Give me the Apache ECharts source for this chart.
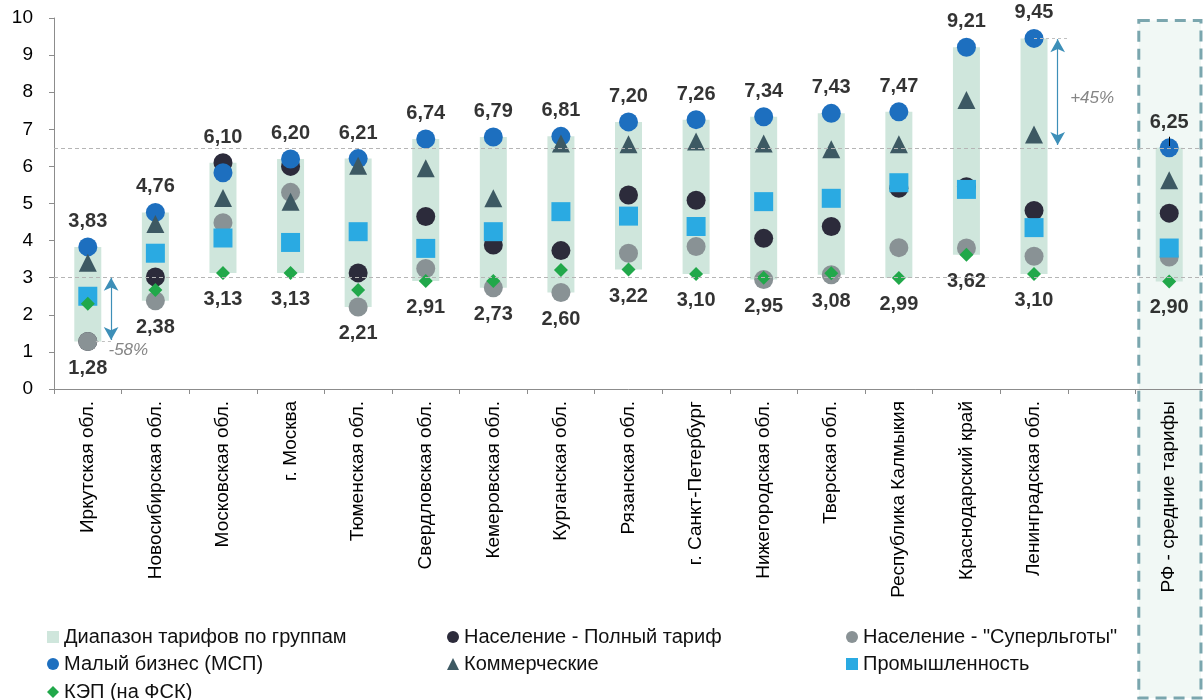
<!DOCTYPE html>
<html><head><meta charset="utf-8">
<script src="https://cdn.jsdelivr.net/npm/echarts@6/dist/echarts.min.js"></script>
<style>html,body{margin:0;padding:0;background:#fff}#c{width:1203px;height:700px}</style>
</head><body><div id="c"></div>
<script>
const categories = ['Иркутская обл.','Новосибирская обл.','Московская обл.','г. Москва','Тюменская обл.','Свердловская обл.','Кемеровская обл.','Курганская обл.','Рязанская обл.','г. Санкт-Петербург','Нижегородская обл.','Тверская обл.','Республика Калмыкия','Краснодарский край','Ленинградская обл.','','РФ - средние тарифы'];
const popFull    = [1.28, 3.02, 6.10, 6.00, 3.13, 4.65, 3.88, 3.73, 5.23, 5.09, 4.06, 4.38, 5.41, 5.45, 4.81, null, 4.74];
const popSuper   = [1.28, 2.38, 4.48, 5.30, 2.21, 3.25, 2.73, 2.60, 3.66, 3.84, 2.95, 3.08, 3.81, 3.80, 3.58, null, 3.56];
const sme        = [3.83, 4.76, 5.83, 6.20, 6.21, 6.74, 6.79, 6.81, 7.20, 7.26, 7.34, 7.43, 7.47, 9.21, 9.45, null, 6.50];
const commercial = [3.40, 4.45, 5.15, 5.05, 6.02, 5.95, 5.14, 6.62, 6.60, 6.67, 6.62, 6.46, 6.60, 7.79, 6.86, null, 5.63];
const industry   = [2.50, 3.66, 4.07, 3.95, 4.24, 3.79, 4.24, 4.78, 4.66, 4.38, 5.05, 5.14, 5.56, 5.38, 4.35, null, 3.80];
const kep        = [2.30, 2.67, 3.13, 3.13, 2.67, 2.91, 2.91, 3.21, 3.22, 3.10, 3.00, 3.12, 2.99, 3.62, 3.10, null, 2.90];
const topLabels    = ['3,83','4,76','6,10','6,20','6,21','6,74','6,79','6,81','7,20','7,26','7,34','7,43','7,47','9,21','9,45','','6,25'];
const bottomLabels = ['1,28','2,38','3,13','3,13','2,21','2,91','2,73','2,60','3,22','3,10','2,95','3,08','2,99','3,62','3,10','','2,90'];
const refLines = [3, 6.5];
const yTicks = [0, 10, 1];

const FONT = "'Liberation Sans', Arial, sans-serif";
const groups = [popFull, popSuper, sme, commercial, industry, kep];
const mins = categories.map((c, i) => {
  const v = groups.map(g => g[i]).filter(x => x != null);
  return v.length ? Math.min(...v) : null;
});
const maxs = categories.map((c, i) => {
  const v = groups.map(g => g[i]).filter(x => x != null);
  return v.length ? Math.max(...v) : null;
});
const spans = mins.map((m, i) => m == null ? null : +(maxs[i] - m).toFixed(2));

function markerSeries(name, data, symbol, size, color) {
  return { name, type: 'scatter', data, symbol, symbolSize: size, itemStyle: { color, opacity: 1 }, silent: true, z: 3 };
}
function legendBox(left, top, names, lh) {
  return { left, top, orient: 'vertical', itemGap: 7, itemWidth: 12, itemHeight: 12, padding: 0,
    textStyle: { fontSize: 20, color: '#111', lineHeight: lh, fontFamily: FONT }, data: names };
}

const chart = echarts.init(document.getElementById('c'), null, { renderer: 'canvas' });
const option = {
  animation: false,
  textStyle: { fontFamily: FONT },
  grid: { left: 54, top: 18, width: 1149, height: 371 },
  xAxis: [{
    type: 'category', data: categories, boundaryGap: true,
    axisLine: { lineStyle: { color: '#8c8c8c', width: 1 } },
    axisTick: { show: true, length: 5, lineStyle: { color: '#8c8c8c' } },
    axisLabel: { rotate: 90, interval: 0, fontSize: 19, color: '#000', margin: 12, fontFamily: FONT }
  }, {
    type: 'value', min: -0.5, max: 16.5, show: false
  }],
  yAxis: {
    type: 'value', min: yTicks[0], max: yTicks[1], interval: yTicks[2],
    axisLine: { show: true, onZero: false, lineStyle: { color: '#8c8c8c', width: 1 } },
    axisTick: { show: true, length: 5, lineStyle: { color: '#8c8c8c' } },
    splitLine: { show: false },
    axisLabel: { fontSize: 19, color: '#000', margin: 21, fontFamily: FONT }
  },
  legend: [
    legendBox(47, 627, [{ name: 'Диапазон тарифов по группам', icon: 'rect' }, 'Малый бизнес (МСП)'], 20),
    legendBox(47, 682, ['КЭП (на ФСК)'], 18),
    legendBox(447, 627, ['Население - Полный тариф', 'Коммерческие'], 20),
    legendBox(846, 627, ['Население - "Суперльготы"', 'Промышленность'], 20)
  ],
  series: [
    { name: '_base', type: 'bar', stack: 'r', data: mins, barWidth: 27, itemStyle: { color: 'rgba(0,0,0,0)' }, silent: true },
    { name: 'Диапазон тарифов по группам', type: 'bar', stack: 'r', data: spans, barWidth: 27, itemStyle: { color: '#cfe6dc' }, silent: true },
    markerSeries('Население - Полный тариф', popFull, 'circle', 19, '#2c2b3b'),
    markerSeries('Население - "Суперльготы"', popSuper, 'circle', 19, '#899295'),
    markerSeries('Малый бизнес (МСП)', sme, 'circle', 19, '#1d6fbf'),
    markerSeries('Коммерческие', commercial, 'triangle', 18, '#3d5963'),
    markerSeries('Промышленность', industry, 'rect', 19, '#2aaae2'),
    markerSeries('КЭП (на ФСК)', kep, 'diamond', 14, '#21a84a'),
    { name: '_top', type: 'scatter', data: maxs, symbolSize: 1, itemStyle: { color: 'rgba(0,0,0,0)' }, silent: true, z: 4,
      label: { show: true, position: 'top', distance: 15, fontSize: 20, fontWeight: 'bold', color: '#000', fontFamily: FONT,
        formatter: p => topLabels[p.dataIndex] } },
    { name: '_bottom', type: 'scatter', data: mins, symbolSize: 1, itemStyle: { color: 'rgba(0,0,0,0)' }, silent: true, z: 4,
      label: { show: true, position: 'bottom', distance: 16, fontSize: 20, fontWeight: 'bold', color: '#000', fontFamily: FONT,
        formatter: p => bottomLabels[p.dataIndex] } },
    { name: '_ref', type: 'line', xAxisIndex: 1, data: [], silent: true, z: 1,
      markLine: { silent: true, symbol: ['none', 'none'], label: { show: false },
        lineStyle: { color: '#b5b5b5', type: [4, 3], width: 1 },
        data: refLines.map(v => [{ coord: [-0.5, v] }, { coord: [16.5, v] }]) } },
    { name: '_short', type: 'line', xAxisIndex: 1, data: [], silent: true, z: 1,
      markLine: { silent: true, symbol: ['none', 'none'], label: { show: false },
        lineStyle: { color: '#c0c0c0', type: [3, 3], width: 1 },
        data: [[{ coord: [0.12, 1.28] }, { coord: [0.36, 1.28] }], [{ coord: [14.0, 9.45] }, { coord: [14.52, 9.45] }]] } },
    { name: '_leader', type: 'line', xAxisIndex: 1, data: [], silent: true, z: 5,
      markLine: { silent: true, symbol: ['none', 'none'], label: { show: false },
        lineStyle: { color: '#000', type: 'solid', width: 1 },
        data: [[{ coord: [16, 6.55] }, { coord: [16, 6.8] }]] } },
    { name: '_arrows', type: 'line', xAxisIndex: 1, data: [], silent: true, z: 5,
      markLine: { silent: true, symbol: ['arrow', 'arrow'], symbolSize: [11, 13], label: { show: false },
        lineStyle: { color: '#3d8fb8', type: 'solid', width: 1.2 },
        data: [[{ coord: [0.345, 3.0] }, { coord: [0.345, 1.32] }], [{ coord: [14.35, 9.43] }, { coord: [14.35, 6.58] }]] } },
    { name: '_pct', type: 'scatter', xAxisIndex: 1, symbolSize: 1, itemStyle: { color: 'rgba(0,0,0,0)' }, silent: true, z: 5,
      data: [{ value: [0.6, 1.05], name: '-58%' }, { value: [14.86, 7.84], name: '+45%' }],
      label: { show: true, position: 'inside', fontSize: 17, fontStyle: 'italic', color: '#666', fontFamily: FONT,
        formatter: p => p.name } }
  ]
};
chart.setOption(option);

const xl = chart.convertToPixel({ xAxisIndex: 1 }, 15.55);
const xr = chart.convertToPixel({ xAxisIndex: 1 }, 16.47);
const yt = chart.convertToPixel({ yAxisIndex: 0 }, 9.93);
chart.setOption({
  graphic: [{
    type: 'rect', z: 0, silent: true,
    shape: { x: xl, y: yt, width: xr - xl, height: 698 - yt },
    style: { fill: '#f1f8f5', stroke: '#7aa6ae', lineWidth: 3, lineDash: [11, 7] }
  }]
});
</script>
</body></html>
